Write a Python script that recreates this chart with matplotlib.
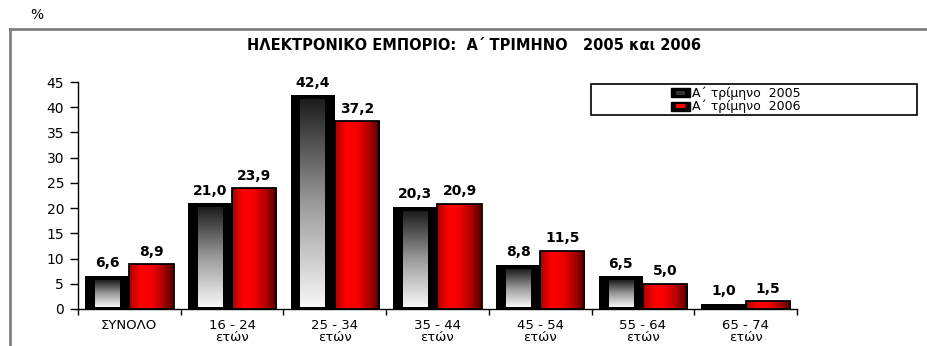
import matplotlib
matplotlib.use("Agg")
import matplotlib.pyplot as plt
import numpy as np
from matplotlib.colors import LinearSegmentedColormap
from matplotlib.lines import Line2D
from matplotlib.patches import Rectangle

plt.rcParams["font.family"] = ["DejaVu Sans"]

categories = ["ΣΥΝΟΛΟ", "16 - 24\nετών", "25 - 34\nετών", "35 - 44\nετών",
              "45 - 54\nετών", "55 - 64\nετών", "65 - 74\nετών"]
q1_2005 = [6.6, 21.0, 42.4, 20.3, 8.8, 6.5, 1.0]
q1_2006 = [8.9, 23.9, 37.2, 20.9, 11.5, 5.0, 1.5]
series_names = ["Α΄ τρίμηνο  2005", "Α΄ τρίμηνο  2006"]
title = "ΗΛΕΚΤΡΟΝΙΚΟ ΕΜΠΟΡΙΟ:  Α΄ ΤΡΙΜΗΝΟ   2005 και 2006"

grey_cmap = LinearSegmentedColormap.from_list("g", ["#f8f8f8", "#9a9a9a", "#1c1c1c"])
red_cmap = LinearSegmentedColormap.from_list(
    "r", ["#a80000", "#ff0000", "#f20000", "#b00000", "#4a0000"])


def fmt(v):
    return f"{v:.1f}".replace(".", ",")


fig = plt.figure(figsize=(9.28, 3.46), dpi=100)
ax = fig.add_axes([78 / 928, 37 / 346, 719 / 928, 227 / 346])

x = np.arange(len(categories))
w = 0.43
black_bars = ax.bar(x - w / 2, q1_2005, w, color="black", zorder=2)
red_bars = ax.bar(x + w / 2, q1_2006, w, color="#ff0000", zorder=2)

vgrad = np.linspace(0, 1, 256).reshape(-1, 1)
hgrad = np.linspace(0, 1, 256).reshape(1, -1)
for b in black_bars:
    x0, h = b.get_x(), b.get_height()
    inset_x, top, bottom = 0.095, 1.0, 0.3
    if h - top - bottom > 0.3:
        ax.imshow(vgrad, cmap=grey_cmap, origin="lower", aspect="auto", zorder=3,
                  extent=[x0 + inset_x, x0 + b.get_width() - inset_x, bottom, h - top])
for b in red_bars:
    x0, h = b.get_x(), b.get_height()
    im = ax.imshow(hgrad, cmap=red_cmap, aspect="auto", zorder=3,
                   extent=[x0, x0 + b.get_width(), 0, h])
    im.set_clip_path(b)
ax.bar(x + w / 2, q1_2006, w, facecolor="none", edgecolor="black", linewidth=1.3, zorder=4)

for bars, vals in [(black_bars, q1_2005), (red_bars, q1_2006)]:
    for b, v in zip(bars, vals):
        ax.annotate(fmt(v), (b.get_x() + b.get_width() / 2, v), xytext=(0, 4),
                    textcoords="offset points", ha="center", va="bottom",
                    fontsize=10, fontweight="bold", zorder=5)

ax.set_xlim(-0.5, len(categories) - 0.5)
ax.set_ylim(0, 45)
ax.set_yticks(range(0, 50, 5))
ax.set_xticks(x)
ax.set_xticklabels(categories, fontsize=9.5, linespacing=0.95)
ax.set_xticks(np.arange(-0.5, len(categories)), minor=True)
ax.tick_params(axis="x", which="major", length=0, pad=7)
ax.tick_params(axis="x", which="minor", length=4, width=1)
ax.tick_params(axis="y", length=6, width=1, pad=4, labelsize=10)
for s in ["top", "right"]:
    ax.spines[s].set_visible(False)
for s in ["left", "bottom"]:
    ax.spines[s].set_linewidth(1)

# outer frame
fig.add_artist(Line2D([10 / 928, 1], [1 - 29 / 346] * 2, color="#808080", lw=2))
fig.add_artist(Line2D([10 / 928] * 2, [0, 1 - 29 / 346], color="#808080", lw=2))
fig.text(30 / 928, 1 - 15 / 346, "%", fontsize=10, ha="left", va="center")
fig.text(474 / 928, 1 - 46 / 346, title, fontsize=10.5, fontweight="bold",
         ha="center", va="center")

# legend
fig.add_artist(Rectangle((591 / 928, 1 - 115 / 346), 326 / 928, 31 / 346,
                         transform=fig.transFigure, fill=False, edgecolor="black", lw=1.2))
sym_w, sym_h = 19 / 928, 9 / 346
for i, name in enumerate(series_names):
    yc = 1 - (93 + 13 * i) / 346
    fig.add_artist(Rectangle((671 / 928, yc - sym_h / 2), sym_w, sym_h,
                             transform=fig.transFigure, facecolor="black", edgecolor="black"))
    inner = "#333333" if i == 0 else "#ff0000"
    fig.add_artist(Rectangle((676 / 928, yc - sym_h / 4), sym_w * 0.45, sym_h / 2,
                             transform=fig.transFigure, facecolor=inner, edgecolor="none"))
    fig.text(692 / 928, yc, name, fontsize=9, ha="left", va="center")

fig.savefig("out.png", dpi=100)
